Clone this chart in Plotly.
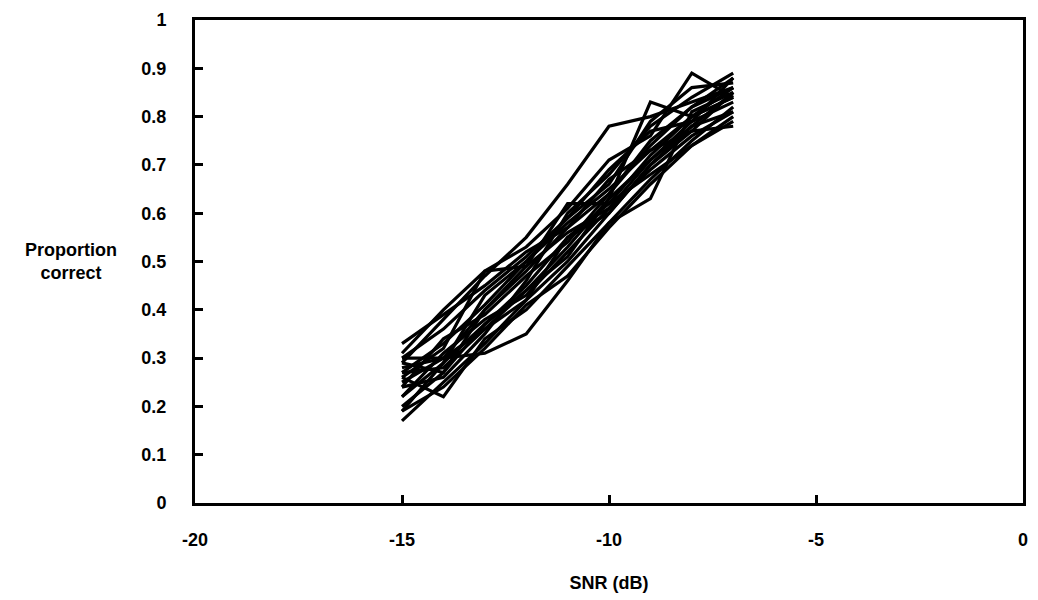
import plotly.graph_objects as go

snr = [-15, -14, -13, -12, -11, -10, -9, -8, -7]

listeners = {
    "L1":  [0.17, 0.25, 0.33, 0.42, 0.50, 0.60, 0.70, 0.78, 0.85],
    "L2":  [0.19, 0.29, 0.37, 0.45, 0.55, 0.62, 0.72, 0.80, 0.86],
    "L3":  [0.20, 0.27, 0.40, 0.48, 0.57, 0.64, 0.75, 0.82, 0.88],
    "L4":  [0.22, 0.31, 0.38, 0.43, 0.52, 0.61, 0.69, 0.76, 0.81],
    "L5":  [0.24, 0.26, 0.35, 0.46, 0.60, 0.68, 0.78, 0.84, 0.89],
    "L6":  [0.25, 0.30, 0.36, 0.44, 0.53, 0.63, 0.71, 0.79, 0.83],
    "L7":  [0.26, 0.22, 0.34, 0.40, 0.49, 0.58, 0.67, 0.75, 0.82],
    "L8":  [0.27, 0.33, 0.41, 0.50, 0.58, 0.65, 0.73, 0.77, 0.78],
    "L9":  [0.28, 0.30, 0.31, 0.35, 0.46, 0.58, 0.63, 0.81, 0.85],
    "L10": [0.29, 0.38, 0.47, 0.55, 0.66, 0.78, 0.80, 0.83, 0.86],
    "L11": [0.30, 0.30, 0.40, 0.49, 0.62, 0.62, 0.68, 0.74, 0.80],
    "L12": [0.30, 0.36, 0.44, 0.51, 0.59, 0.66, 0.79, 0.86, 0.87],
    "L13": [0.31, 0.40, 0.48, 0.53, 0.61, 0.71, 0.76, 0.89, 0.84],
    "L14": [0.33, 0.39, 0.45, 0.52, 0.57, 0.67, 0.73, 0.80, 0.84],
    "L15": [0.27, 0.28, 0.36, 0.42, 0.55, 0.60, 0.70, 0.77, 0.85],
    "L16": [0.24, 0.34, 0.39, 0.47, 0.54, 0.64, 0.74, 0.82, 0.86],
    "L17": [0.22, 0.29, 0.43, 0.50, 0.59, 0.69, 0.77, 0.79, 0.88],
    "L18": [0.26, 0.32, 0.48, 0.49, 0.56, 0.61, 0.71, 0.78, 0.81],
    "L19": [0.29, 0.27, 0.37, 0.44, 0.51, 0.63, 0.83, 0.80, 0.84],
    "L20": [0.19, 0.24, 0.32, 0.41, 0.47, 0.57, 0.66, 0.74, 0.79],
}

x_ticks = [-20, -15, -10, -5, 0]
y_ticks = [0, 0.1, 0.2, 0.3, 0.4, 0.5, 0.6, 0.7, 0.8, 0.9, 1]
y_tick_text = ["0", "0.1", "0.2", "0.3", "0.4", "0.5", "0.6", "0.7", "0.8", "0.9", "1"]

fig = go.Figure()
for name, vals in listeners.items():
    fig.add_trace(go.Scatter(x=snr, y=vals, mode="lines", name=name,
                             line=dict(color="black", width=3.2), showlegend=False))

font = dict(family="Liberation Sans, Arial, sans-serif", size=18, color="black")

fig.update_layout(
    width=1038, height=600,
    margin=dict(l=195, r=10, t=20, b=97),
    plot_bgcolor="white", paper_bgcolor="white",
    font=font,
    xaxis=dict(range=[-20, 0], tickvals=x_ticks, ticktext=["<b>%d</b>" % v for v in x_ticks],
               showgrid=False, zeroline=False, showline=True, linecolor="black", linewidth=3,
               mirror=True, ticks="inside", ticklen=8, tickwidth=3, tickcolor="black",
               ticklabelstandoff=18,
               title=dict(text="<b>SNR (dB)</b>", font=font, standoff=28)),
    yaxis=dict(range=[0, 1], tickvals=y_ticks, ticktext=["<b>%s</b>" % t for t in y_tick_text],
               showgrid=False, zeroline=False, showline=True, linecolor="black", linewidth=3,
               mirror=True, ticks="inside", ticklen=8, tickwidth=3, tickcolor="black",
               ticklabelstandoff=22),
    annotations=[dict(text="<b>Proportion<br>correct</b>", xref="paper", yref="paper",
                      x=-0.150, y=0.5, xanchor="center", yanchor="middle",
                      showarrow=False, font=font, align="center")],
)

fig.write_html("out.html", config={"displayModeBar": False},
               post_script="document.body.style.margin='0';")
